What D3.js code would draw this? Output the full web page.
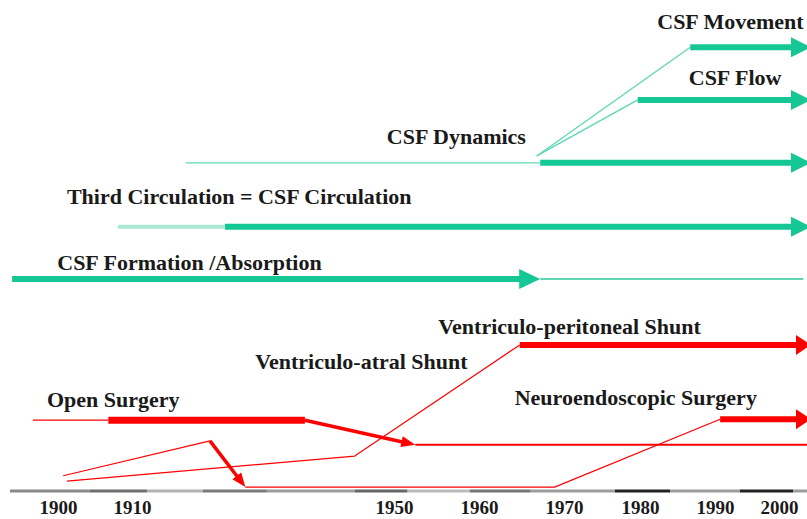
<!DOCTYPE html>
<html>
<head>
<meta charset="utf-8">
<script src="https://cdn.jsdelivr.net/npm/d3@7"></script>
<style>
  body { margin: 0; background: #fff; }
  svg { display: block; }
  .lbl { font-family: "Liberation Serif", "Times New Roman", serif; font-weight: bold; fill: #1a1a1a; }
</style>
</head>
<body>
<div id="chart"></div>
<script>
// timeline ticks (decades are not evenly spaced in the original drawing)
const tickYears = [1900, 1910, 1950, 1960, 1970, 1980, 1990, 2000];

// CSF physiology concepts: [year, level]
const dynamicsThin = [[1918.2, 66.9], [1967.2, 66.9]];
const dynamicsThick = [[1967.2, 66.9], [2005, 66.9]];
const flowThin = [[1966.8, 68.3], [1979.7, 79.7]];
const flowThick = [[1979.7, 79.7], [2005, 79.7]];
const movementThin = [[1966.8, 68.3], [1986.7, 90.4]];
const movementThick = [[1986.7, 90.4], [2005, 90.4]];
const circulationThin = [[1908.1, 53.9], [1924.2, 53.9]];
const circulationThick = [[1924.2, 53.9], [2005, 53.9]];
const formationThick = [[1893.8, 43.3], [1967.2, 43.3]];
const formationThin = [[1967.2, 43.3], [2003.8, 43.3]];

// surgical treatment
const openThin = [[1896.6, 14.6], [1906.8, 14.6]];
const openThick = [[1906.8, 14.6], [1936.4, 14.6]];
const openDrop = [[1936.4, 14.6], [1952.5, 9.6]];
const openAfter = [[1952.5, 9.6], [2005, 9.6]];
const shuntThin = [[1901.2, 2.2], [1944.0, 7.3], [1964.8, 29.9]];
const vpShunt = [[1964.8, 29.9], [2005, 29.9]];
const endoThin = [[1900.7, 3.3], [1921.9, 10.4]];
const endoDrop = [[1921.9, 10.4], [1927.3, 1.0]];
const endoFlat = [[1927.3, 1.0], [1968.9, 1.0], [1990.8, 14.8]];
const endoThick = [[1990.8, 14.8], [2005, 14.8]];

const labels = [
  ["CSF Movement", 1982.3, 95.5],
  ["CSF Flow", 1986.5, 84.3],
  ["CSF Dynamics", 1948.9, 72.2],
  ["Third Circulation = CSF Circulation", 1901.2, 60.0],
  ["CSF Formation /Absorption", 1899.9, 46.5],
  ["Ventriculo-peritoneal Shunt", 1955.2, 33.5],
  ["Ventriculo-atral Shunt", 1928.8, 26.4],
  ["Open Surgery", 1898.5, 18.7],
  ["Neuroendoscopic Surgery", 1964.2, 19.1]
];

// shading of the time bar: [from, to, grey]
const barShades = [
  [1893.5, 1904.3, "#8a8a8a"], [1904.3, 1912.3, "#6f6f6f"], [1912.3, 1920.8, "#b3b3b3"],
  [1920.8, 1930.6, "#7a7a7a"], [1930.6, 1944.0, "#9c9c9c"], [1944.0, 1951.6, "#666"],
  [1951.6, 1958.9, "#bbb"], [1958.9, 1966.0, "#777"], [1966.0, 1976.7, "#9c9c9c"],
  [1976.7, 1984.0, "#222"], [1984.0, 1993.9, "#9c9c9c"], [1993.9, 2002.2, "#222"],
  [2002.2, 2006, "#9c9c9c"]
];

const width = 807, height = 519;
const GREEN = "#14c794", GREEN_THIN = "#5fd7b4", GREEN_PALE = "#ade9d7", RED = "#ff0000";

const svg = d3.select("#chart").append("svg")
  .attr("width", width)
  .attr("height", height);

const x = d3.scaleLinear()
  .domain(tickYears)
  .range([58, 132, 394, 479, 564, 640, 715, 779]);

const y = d3.scaleLinear()
  .domain([0, 100])
  .range([492, 0]);

const line = d3.line()
  .x(d => d[0])
  .y(d => d[1]);

function draw(data, color, w, head) {
  let pts = data.map(d => [x(d[0]), y(d[1])]);
  if (head) {
    const [hl, hw] = head;
    const p0 = pts[pts.length - 2], p1 = pts[pts.length - 1];
    const a = Math.atan2(p1[1] - p0[1], p1[0] - p0[0]);
    const c = Math.cos(a), s = Math.sin(a);
    const bx = p1[0] - hl * c, by = p1[1] - hl * s;
    pts = pts.slice(0, -1).concat([[bx + c, by + s]]);
    svg.append("path")
      .attr("d", `M${p1[0]},${p1[1]}L${bx - s * hw / 2},${by + c * hw / 2}L${bx + s * hw / 2},${by - c * hw / 2}Z`)
      .attr("fill", color);
  }
  svg.append("path")
    .datum(pts)
    .attr("d", line)
    .attr("fill", "none")
    .attr("stroke", color)
    .attr("stroke-width", w)
    .attr("stroke-linejoin", "round");
}

// time bar
svg.append("g")
  .selectAll("line")
  .data(barShades)
  .join("line")
  .attr("x1", d => Math.max(10, x(d[0])))
  .attr("x2", d => x(d[1]))
  .attr("y1", y(0) - 1)
  .attr("y2", y(0) - 1)
  .attr("stroke", d => d[2])
  .attr("stroke-width", 3);

// green
draw(dynamicsThin, GREEN_THIN, 1.4);
draw(flowThin, GREEN_THIN, 1.4);
draw(movementThin, GREEN_THIN, 1.4);
draw(dynamicsThick, GREEN, 6, [20, 20]);
draw(flowThick, GREEN, 6, [20, 20]);
draw(movementThick, GREEN, 6, [20, 20]);
draw(circulationThin, GREEN_PALE, 4);
draw(circulationThick, GREEN, 6, [20, 20]);
draw(formationThin, GREEN_THIN, 2);
draw(formationThick, GREEN, 6, [21, 20]);

// red
draw(openThin, RED, 1.3);
draw(openThick, RED, 7);
draw(openAfter, RED, 2);
draw(openDrop, RED, 3.5, [14, 11]);
draw(shuntThin, RED, 1.2);
draw(vpShunt, RED, 6, [15, 20]);
draw(endoThin, RED, 1.2);
draw(endoFlat, RED, 1.2);
draw(endoDrop, RED, 3.5, [14, 11]);
draw(endoThick, RED, 6, [15, 20]);

// labels
svg.append("g")
  .selectAll("text")
  .data(labels)
  .join("text")
  .attr("class", "lbl")
  .attr("x", d => x(d[1]))
  .attr("y", d => y(d[2]))
  .attr("dy", "0.33em")
  .style("font-size", "22px")
  .text(d => d[0]);

// year axis
const axis = svg.append("g")
  .attr("transform", `translate(0,${y(0)})`)
  .call(d3.axisBottom(x)
    .tickValues(tickYears)
    .tickSize(0)
    .tickPadding(9)
    .tickFormat(d3.format("d")));

axis.select(".domain").remove();
axis.selectAll("text")
  .attr("class", "lbl")
  .style("font-size", "19px");
</script>
</body>
</html>
